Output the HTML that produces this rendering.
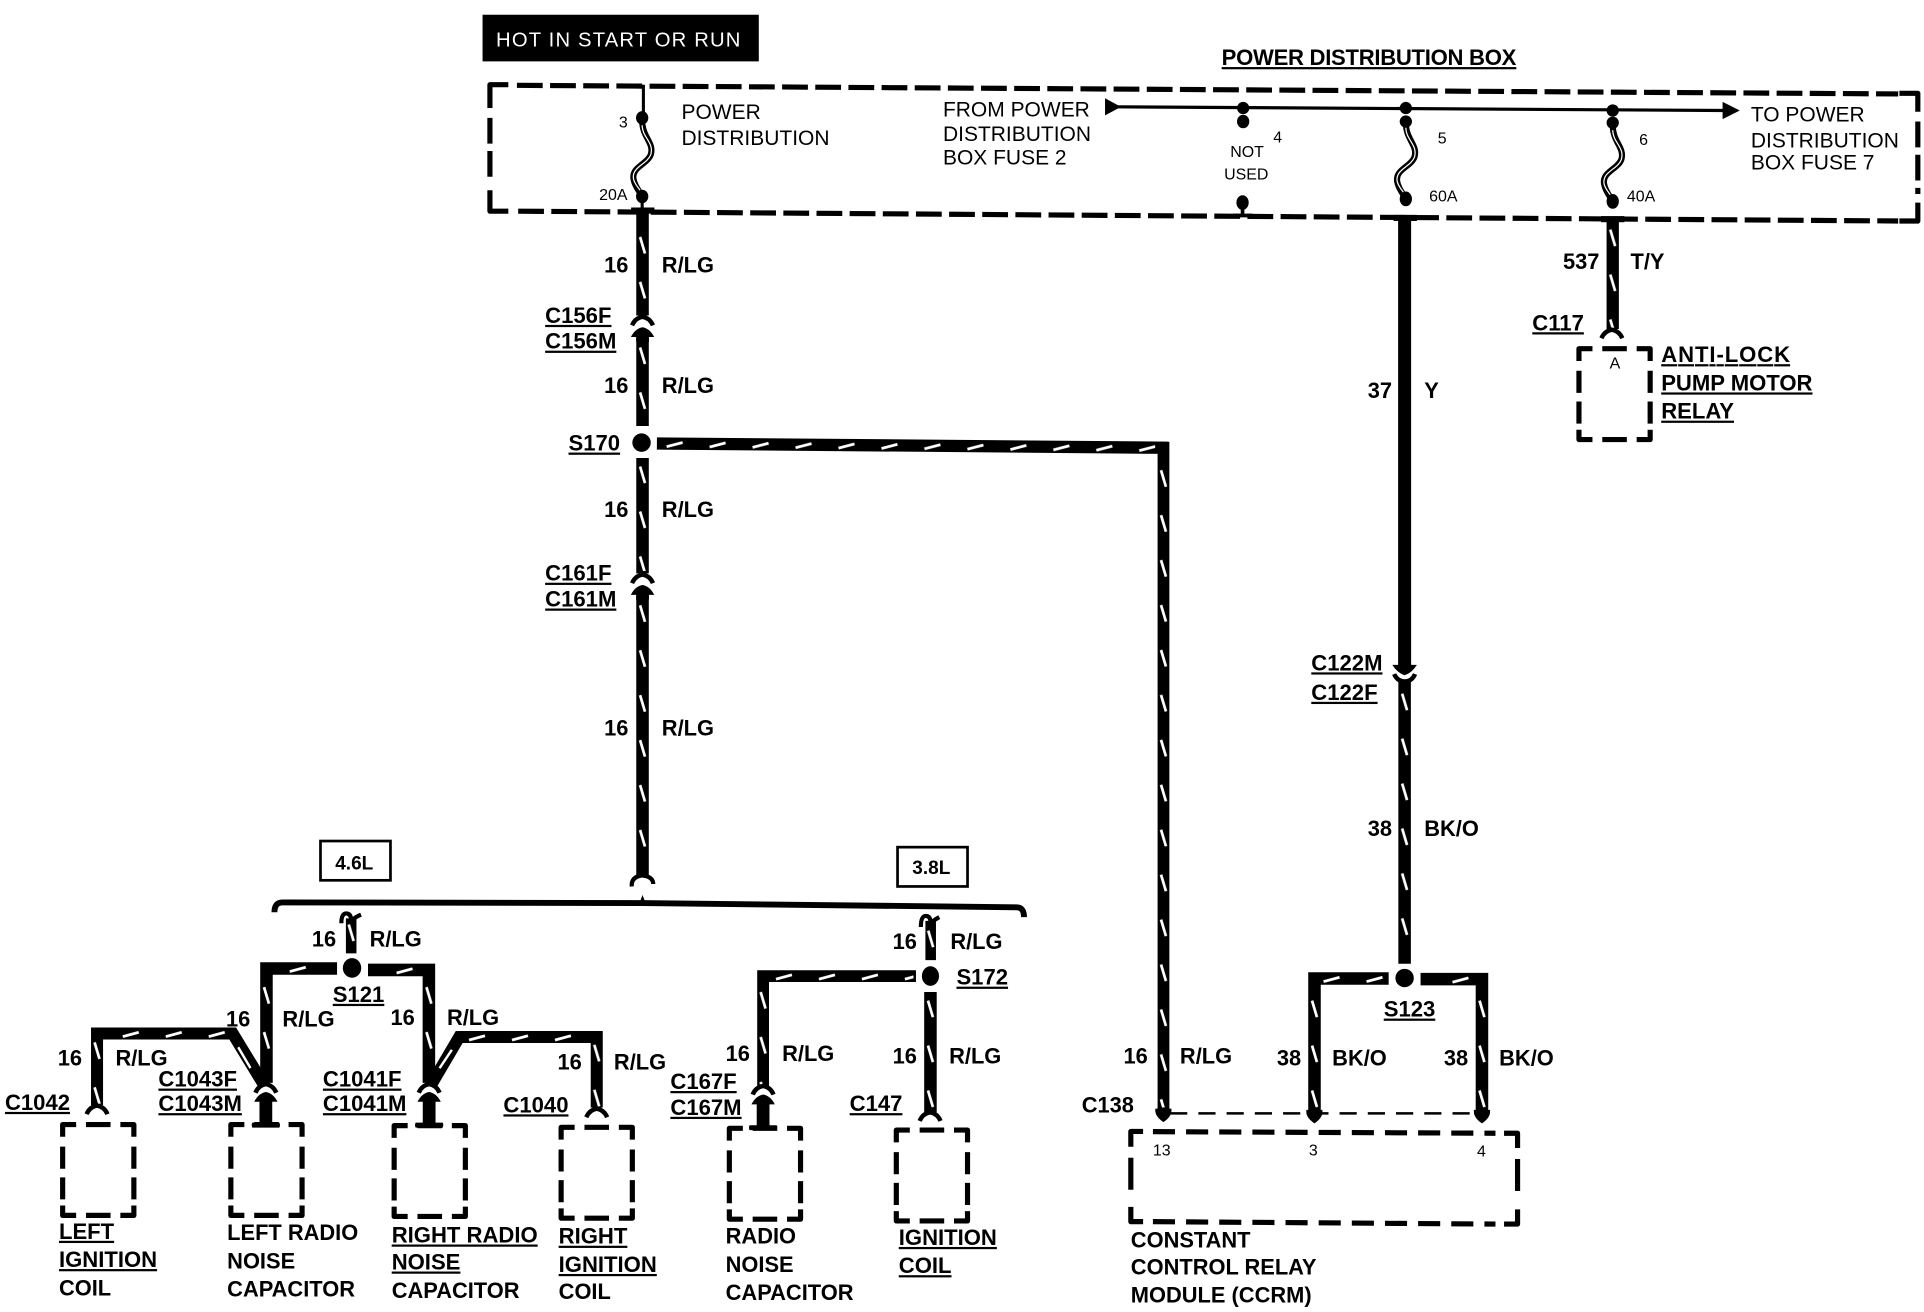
<!DOCTYPE html>
<html>
<head>
<meta charset="utf-8">
<style>
html,body{margin:0;padding:0;background:#fff;}
svg{display:block;}
text{font-family:"Liberation Sans",sans-serif;fill:#000;}
.r{font-size:17.1px;}
.b{font-size:17.8px;font-weight:bold;}
.u{font-size:18px;font-weight:bold;text-decoration:underline;}
.s{font-size:13px;}
.w{fill:none;stroke:#000;stroke-width:10.2;stroke-linejoin:miter;}
.t{fill:none;stroke:#fff;stroke-width:2;}
.d{fill:none;stroke:#000;stroke-width:4.2;stroke-dasharray:21 6;}
.c{fill:none;stroke:#000;stroke-width:4.2;stroke-linejoin:round;}
.f1{fill:none;stroke:#000;stroke-width:5;}
.f2{fill:none;stroke:#fff;stroke-width:1;}
.h{fill:none;stroke:#000;stroke-width:4.8;}
</style>
</head>
<body>
<svg xmlns="http://www.w3.org/2000/svg" width="1924" height="1312" viewBox="0 0 1567 1068.6">
<defs>
<pattern id="vt" width="12" height="36.6" patternUnits="userSpaceOnUse"><path d="M4,3 L8,16.5" stroke="#fff" stroke-width="2.2" fill="none"/></pattern>
<pattern id="hz" width="35" height="12" patternUnits="userSpaceOnUse"><path d="M2,8.5 L15,5" stroke="#fff" stroke-width="2.2" fill="none"/></pattern>
<g id="fem"><path d="M-8.5,9 Q-6,3 0,2 Q6,3 8.5,9" fill="none" stroke="#000" stroke-width="3.6"/></g>
<g id="mi"><path d="M0,0 Q6,1 9.5,8 L5.2,8 L5.2,12 L-5.2,12 L-5.2,8 L-9.5,8 Q-6,1 0,0 Z" fill="#000"/></g>
<g id="mb"><path d="M0,0 Q6,1 9.5,8 L5.2,8 L5.2,25 L11,25 Q12,27 11,29 L-11,29 Q-12,27 -11,25 L-5.2,25 L-5.2,8 L-9.5,8 Q-6,1 0,0 Z" fill="#000"/></g>
<g id="fuse"><path d="M0,0 C0,14 10,18 7,28 C4,36 -9,38 -7,48 C-6,54 -2,58 0,62" class="f1"/><path d="M0,4 C0,14 10,18 7,28 C4,36 -9,38 -7,48 C-6,52 -3,55 -1,58" class="f2"/></g>
<path id="bx58" d="M0,10 L0,0 L11,0 M19,0 L39,0 M47,0 L58,0 L58,10 M58,18 L58,36 M58,43 L58,61 M58,66 L58,74 L47,74 M39,74 L19,74 M11,74 L0,74 L0,66 M0,61 L0,43 M0,36 L0,18" class="c"/>
</defs>

<!-- header -->
<rect x="393" y="12" width="225" height="38" fill="#000"/>
<text x="404" y="38" style="font-size:16.5px;fill:#fff" textLength="199">HOT IN START OR RUN</text>
<text x="995" y="53" class="u" textLength="240">POWER DISTRIBUTION BOX</text>

<!-- power distribution box -->
<path d="M399,88 L399,69 L414,69 M399,155 L399,172 L414,172 M1547,76 L1562,76 L1562,91 M1562,165 L1562,180 L1547,180" class="c"/>
<path d="M421,69.5 L1546,76.5 M422,172 L1546,180" class="d"/>
<path d="M399,96 L399,150 M1562,99 L1562,158" class="d"/>

<!-- fuse 3 -->
<path d="M524,69 L524,95" fill="none" stroke="#000" stroke-width="2.5"/>
<ellipse cx="523" cy="96" rx="5" ry="5.5"/>
<use href="#fuse" x="523" y="98"/>
<ellipse cx="523" cy="160" rx="5" ry="5.5"/>
<path d="M523,160 L523,172" stroke="#000" stroke-width="2.5"/>
<rect x="514" y="169" width="19" height="5"/>

<!-- bus -->
<path d="M906,87 L1404,90" fill="none" stroke="#000" stroke-width="2.6"/>
<path d="M900,80 L913,87 L900,94 Z"/>
<path d="M1403,83 L1417,90 L1403,97 Z"/>
<ellipse cx="1012.5" cy="88" rx="5" ry="5"/><ellipse cx="1012.5" cy="99" rx="5" ry="5.5"/>
<ellipse cx="1012" cy="165" rx="5" ry="6"/><path d="M1012,168 L1012,175 M1004,175.5 L1020,175.5" stroke="#000" stroke-width="3"/>
<ellipse cx="1145" cy="88" rx="5" ry="5"/><ellipse cx="1145" cy="99" rx="5" ry="5"/>
<use href="#fuse" x="1145" y="100"/>
<ellipse cx="1145" cy="162" rx="5" ry="6"/>
<ellipse cx="1313.5" cy="90" rx="5" ry="5"/><ellipse cx="1313.5" cy="100" rx="5" ry="5"/>
<use href="#fuse" x="1313.5" y="102"/>
<ellipse cx="1313.5" cy="164" rx="5" ry="6"/>
<rect x="1135" y="175" width="19" height="5"/>
<rect x="1304" y="176" width="19" height="5"/>

<!-- main left wire -->
<path d="M523.3,172 L523.3,257 M523.3,275 L523.3,347 M523.3,373 L523.3,467 M523.3,485 L523.3,713" class="w"/>
<rect transform="translate(517.3,190)" width="12" height="67" fill="url(#vt)"/>
<rect transform="translate(517.3,280)" width="12" height="65" fill="url(#vt)"/>
<rect transform="translate(517.3,377)" width="12" height="88" fill="url(#vt)"/>
<rect transform="translate(517.3,490)" width="12" height="222" fill="url(#vt)"/>
<use href="#fem" x="523.3" y="256"/><use href="#mi" x="523.3" y="266.5"/>
<use href="#fem" x="523.3" y="466"/><use href="#mi" x="523.3" y="476.5"/>
<circle cx="522.5" cy="360.5" r="7.5"/>
<path d="M514.5,722 Q514,714 523,713 Q532,714 532,720" fill="none" stroke="#000" stroke-width="3.4"/>
<path d="M521,735 L523.3,729 L525.6,735 Z"/>

<!-- S170 to C138 -->
<path d="M535,361.2 L951.8,364.7" fill="none" stroke="#000" stroke-width="10"/>
<path d="M947.6,360 L947.6,905" class="w" style="stroke-width:9.6"/>
<rect transform="translate(541,355.3) rotate(.48)" width="400" height="12" fill="url(#hz)"/>
<rect transform="translate(941.6,380)" width="12" height="522" fill="url(#vt)"/>
<path d="M941,903 L954,903 Q955,909 947.6,914 Q940,909 941,903 Z"/>

<!-- bracket -->
<path d="M223.5,743 Q223.5,735 230,735 L523,735.5 L828,739 Q834,739 834,747" class="h"/>

<!-- 37 Y / BK/O -->
<path d="M1144,178 L1144,543" fill="none" stroke="#000" stroke-width="10.6"/>
<path d="M1134,541.5 L1154,541.5 Q1150,548 1144,550 Q1138,548 1134,541.5 Z"/>
<path d="M1135.5,549 Q1138,555 1144,555 Q1150,555 1152.5,549" fill="none" stroke="#000" stroke-width="3.6"/>
<path d="M1144,554 L1144,785" class="w"/>
<rect transform="translate(1138,562)" width="12" height="222" fill="url(#vt)"/>
<circle cx="1144" cy="796.6" r="7.5"/>
<path d="M1131,797 L1070.6,797 L1070.6,908" class="w"/>
<rect transform="translate(1076,791)" width="60" height="12" fill="url(#hz)"/>
<rect transform="translate(1064.6,812)" width="12" height="92" fill="url(#vt)"/>
<path d="M1157,797.5 L1207,797.5 L1207,908" class="w"/>
<rect transform="translate(1181,791.5)" width="20" height="12" fill="url(#hz)"/>
<rect transform="translate(1201,812)" width="12" height="92" fill="url(#vt)"/>
<path d="M1064,904 L1077,904 Q1078,910 1070.6,915 Q1063,910 1064,904 Z"/>
<path d="M1200.5,904 L1213.5,904 Q1214.5,910 1207,915 Q1199.5,910 1200.5,904 Z"/>
<path d="M953,906.8 L1205,906.8" fill="none" stroke="#000" stroke-width="2" stroke-dasharray="14 9"/>
<path d="M921,934 L921,921.5 L931,921.5 M1225,923 L1236,923 L1236,935 M1236,985 L1236,997 L1225,997 M931,995 L921,995 L921,983" class="c"/>
<path d="M939,921.7 L1218,923 M939,995 L1218,997" class="d" style="stroke-dasharray:18 9"/>
<path d="M921,943 L921,975 M1236,944 L1236,976" class="d" style="stroke-dasharray:26 9"/>

<!-- 537 T/Y -->
<path d="M1313.5,178 L1313.5,268" fill="none" stroke="#000" stroke-width="10"/>
<rect transform="translate(1307.5,184)" width="12" height="84" fill="url(#vt)"/>
<use href="#fem" x="1312.8" y="266.5"/>
<use href="#bx58" x="1286" y="284"/>

<!-- 4.6L -->
<rect x="261" y="685" width="57" height="32" fill="#fff" stroke="#000" stroke-width="2.2"/>
<text x="273" y="708" style="font-size:15.5px;font-weight:bold">4.6L</text>
<path d="M286,748 L286,776.5" fill="none" stroke="#000" stroke-width="8.6"/>
<rect transform="translate(280,750)" width="12" height="26" fill="url(#vt)"/>
<path d="M278,752 Q278,744 282,744 Q286,744 286,750 M286,750 Q289,747 294,745" fill="none" stroke="#000" stroke-width="3.4"/>
<ellipse cx="286.7" cy="788.4" rx="7.5" ry="8"/>
<path d="M274.5,788.8 L217,788.8 L217,882" class="w"/>
<rect transform="translate(234,782.8)" width="34" height="12" fill="url(#hz)"/>
<rect transform="translate(211,801)" width="12" height="75" fill="url(#vt)"/>
<path d="M299.7,790 L349.3,790 L349.3,882" class="w"/>
<rect transform="translate(321,784)" width="20" height="12" fill="url(#hz)"/>
<rect transform="translate(343.3,801)" width="12" height="70" fill="url(#vt)"/>
<path d="M214,882 L189.5,841.8 L79,841.8 L79,900" class="w" style="stroke-width:9.8"/>
<rect transform="translate(98,835.8)" width="90" height="12" fill="url(#hz)"/>
<rect transform="translate(73,846)" width="12" height="55" fill="url(#vt)"/>
<path d="M194,853 L204,870" class="t"/>
<path d="M352,882 L374,844.6 L486,844.6 L486,902" class="w" style="stroke-width:9.8"/>
<rect transform="translate(380,838.6)" width="100" height="12" fill="url(#hz)"/>
<rect transform="translate(480,848)" width="12" height="55" fill="url(#vt)"/>
<path d="M368,855 L358,870" class="t"/>
<use href="#fem" x="216.5" y="881"/><use href="#mb" x="216.5" y="889.4"/>
<use href="#fem" x="349.5" y="881"/><use href="#mb" x="349.5" y="889.4"/>
<use href="#fem" x="79" y="898.5"/>
<use href="#fem" x="486" y="901"/>

<!-- 3.8L -->
<rect x="731" y="690" width="57" height="32" fill="#fff" stroke="#000" stroke-width="2.2"/>
<text x="743" y="712" style="font-size:15.5px;font-weight:bold">3.8L</text>
<path d="M758,750 L758,782" fill="none" stroke="#000" stroke-width="8.6"/>
<rect transform="translate(752,755)" width="12" height="27" fill="url(#vt)"/>
<path d="M750,755 Q750,746 754,746 Q758,746 758,752 M758,752 Q761,749 765,747" fill="none" stroke="#000" stroke-width="3.4"/>
<ellipse cx="757.8" cy="795" rx="7" ry="8"/>
<path d="M746,795 L621.5,795 L621.5,885" class="w" style="stroke-width:9.6"/>
<rect transform="translate(630,789)" width="114" height="12" fill="url(#hz)"/>
<rect transform="translate(615.5,805)" width="12" height="80" fill="url(#vt)"/>
<path d="M757.8,808 L757.8,906" class="w"/>
<rect transform="translate(751.8,812)" width="12" height="92" fill="url(#vt)"/>
<use href="#fem" x="621.5" y="882.5"/><use href="#mb" x="621.5" y="891.5"/>
<use href="#fem" x="757.5" y="904"/>

<!-- small dashed boxes -->
<use href="#bx58" x="51" y="915.9"/>
<use href="#bx58" x="188" y="915.9"/>
<use href="#bx58" x="321" y="916.8"/>
<use href="#bx58" x="457" y="918.2"/>
<use href="#bx58" x="594" y="919"/>
<use href="#bx58" x="730" y="920.4"/>

<!-- top labels -->
<text x="555" y="97" class="r">POWER</text>
<text x="555" y="118" class="r">DISTRIBUTION</text>
<text x="768" y="95" class="r">FROM POWER</text>
<text x="768" y="115" class="r">DISTRIBUTION</text>
<text x="768" y="134" class="r">BOX FUSE 2</text>
<text x="1426" y="99" class="r">TO POWER</text>
<text x="1426" y="120" class="r">DISTRIBUTION</text>
<text x="1426" y="138" class="r">BOX FUSE 7</text>
<text x="1002" y="128" class="s">NOT</text>
<text x="997" y="146" class="s">USED</text>
<text x="504" y="104" class="s">3</text>
<text x="488" y="163" class="s">20A</text>
<text x="1037" y="116" class="s">4</text>
<text x="1171" y="117" class="s">5</text>
<text x="1335" y="118" class="s">6</text>
<text x="1164" y="164" class="s">60A</text>
<text x="1325" y="164" class="s">40A</text>

<!-- main wire labels -->
<text x="492" y="222" class="b">16</text><text x="539" y="222" class="b">R/LG</text>
<text x="444" y="263" class="u">C156F</text>
<text x="444" y="284" class="u">C156M</text>
<text x="492" y="320" class="b">16</text><text x="539" y="320" class="b">R/LG</text>
<text x="463" y="367" class="u">S170</text>
<text x="492" y="421" class="b">16</text><text x="539" y="421" class="b">R/LG</text>
<text x="444" y="473" class="u">C161F</text>
<text x="444" y="494" class="u">C161M</text>
<text x="492" y="599" class="b">16</text><text x="539" y="599" class="b">R/LG</text>

<text x="1273" y="219" class="b">537</text><text x="1328" y="219" class="b">T/Y</text>
<text x="1248" y="269" class="u">C117</text>
<text x="1311" y="300" class="s">A</text>
<text x="1353" y="295" class="u" textLength="105">ANTI-LOCK</text>
<text x="1353" y="318" class="u">PUMP MOTOR</text>
<text x="1353" y="341" class="u">RELAY</text>
<text x="1114" y="324" class="b">37</text><text x="1160" y="324" class="b">Y</text>
<text x="1068" y="546" class="u">C122M</text>
<text x="1068" y="570" class="u">C122F</text>
<text x="1114" y="681" class="b">38</text><text x="1160" y="681" class="b">BK/O</text>
<text x="1127" y="828" class="u">S123</text>

<!-- 4.6L labels -->
<text x="254" y="771" class="b">16</text><text x="301" y="771" class="b">R/LG</text>
<text x="271" y="816" class="u">S121</text>
<text x="184" y="836" class="b">16</text><text x="230" y="836" class="b">R/LG</text>
<text x="318" y="835" class="b">16</text><text x="364" y="835" class="b">R/LG</text>
<text x="47" y="868" class="b">16</text><text x="94" y="868" class="b">R/LG</text>
<text x="454" y="871" class="b">16</text><text x="500" y="871" class="b">R/LG</text>
<text x="129" y="885" class="u">C1043F</text>
<text x="129" y="905" class="u">C1043M</text>
<text x="263" y="885" class="u">C1041F</text>
<text x="263" y="905" class="u">C1041M</text>
<text x="4" y="904" class="u">C1042</text>
<text x="410" y="906" class="u">C1040</text>

<!-- 3.8L labels -->
<text x="727" y="773" class="b">16</text><text x="774" y="773" class="b">R/LG</text>
<text x="779" y="802" class="u">S172</text>
<text x="591" y="864" class="b">16</text><text x="637" y="864" class="b">R/LG</text>
<text x="727" y="866" class="b">16</text><text x="773" y="866" class="b">R/LG</text>
<text x="546" y="887" class="u">C167F</text>
<text x="546" y="908" class="u">C167M</text>
<text x="692" y="905" class="u">C147</text>

<!-- CCRM labels -->
<text x="915" y="866" class="b">16</text><text x="961" y="866" class="b">R/LG</text>
<text x="1040" y="868" class="b">38</text><text x="1085" y="868" class="b">BK/O</text>
<text x="1176" y="868" class="b">38</text><text x="1221" y="868" class="b">BK/O</text>
<text x="881" y="906" class="b">C138</text>
<text x="939" y="941" class="s">13</text>
<text x="1066" y="941" class="s">3</text>
<text x="1203" y="942" class="s">4</text>

<!-- component names -->
<text x="48" y="1009" class="u">LEFT</text>
<text x="48" y="1032" class="u">IGNITION</text>
<text x="48" y="1055" class="b">COIL</text>
<text x="185" y="1010" class="b">LEFT RADIO</text>
<text x="185" y="1033" class="b">NOISE</text>
<text x="185" y="1056" class="b">CAPACITOR</text>
<text x="319" y="1012" class="u">RIGHT RADIO</text>
<text x="319" y="1034" class="u">NOISE</text>
<text x="319" y="1057" class="b">CAPACITOR</text>
<text x="455" y="1013" class="u">RIGHT</text>
<text x="455" y="1036" class="u">IGNITION</text>
<text x="455" y="1058" class="b">COIL</text>
<text x="591" y="1013" class="b">RADIO</text>
<text x="591" y="1036" class="b">NOISE</text>
<text x="591" y="1059" class="b">CAPACITOR</text>
<text x="732" y="1014" class="u">IGNITION</text>
<text x="732" y="1037" class="u">COIL</text>
<text x="921" y="1016" class="b">CONSTANT</text>
<text x="921" y="1038" class="b">CONTROL RELAY</text>
<text x="921" y="1061" class="b">MODULE (CCRM)</text>
</svg>
</body>
</html>
